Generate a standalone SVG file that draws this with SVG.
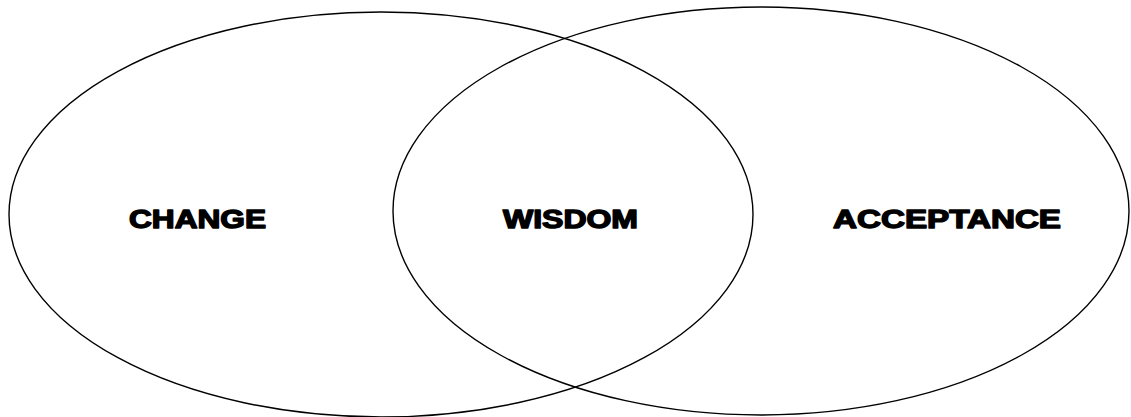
<svg xmlns="http://www.w3.org/2000/svg" width="1131" height="417" viewBox="0 0 1131 417">
<style>
.c{fill:none;stroke:#000;stroke-width:1.4}
.t{font-family:"Liberation Sans",Arial,sans-serif;font-weight:bold;font-size:25px;fill:#000;stroke:#000;stroke-width:1.4;stroke-linejoin:round}
</style>
<rect width="1131" height="417" fill="#fff"/>
<g id="connectors"></g>
<g id="change">
<ellipse class="c" cx="381" cy="214.5" rx="372" ry="202.5"/>
<text class="t" x="129" y="228" textLength="137" lengthAdjust="spacingAndGlyphs">CHANGE</text>
</g>
<g id="acceptance">
<ellipse class="c" cx="761" cy="211" rx="368" ry="204"/>
<text class="t" x="833" y="228" textLength="228" lengthAdjust="spacingAndGlyphs">ACCEPTANCE</text>
</g>
<g id="wisdom">
<text class="t" x="503" y="228" textLength="135" lengthAdjust="spacingAndGlyphs">WISDOM</text>
</g>
</svg>
